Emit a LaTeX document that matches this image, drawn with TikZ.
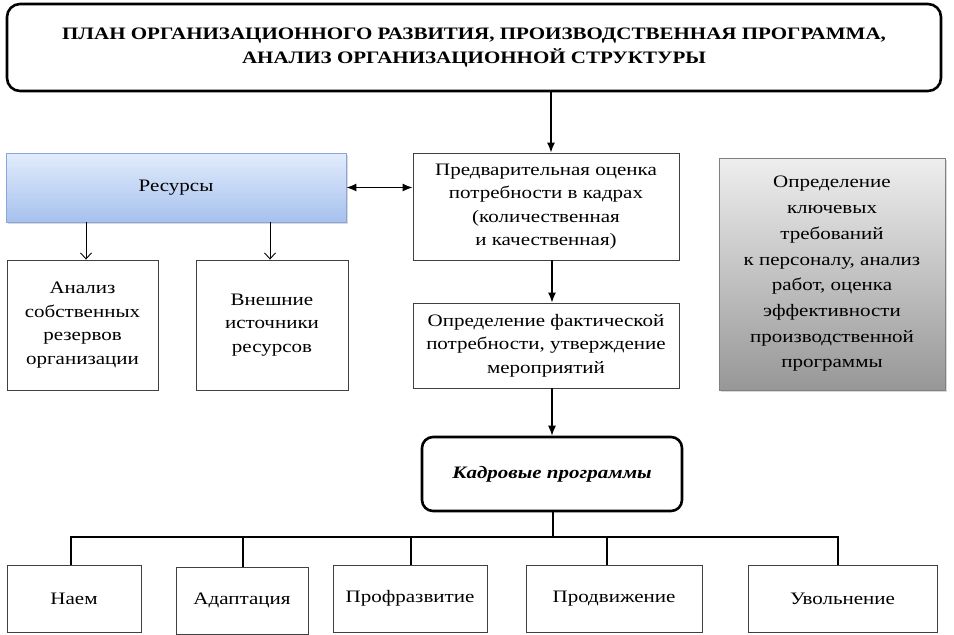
\documentclass[tikz,border=0pt]{standalone}
\usepackage{fontspec}
\setmainfont{Liberation Serif}[FakeStretch=1.2]
\usetikzlibrary{arrows.meta,shadows}
\definecolor{restop}{HTML}{E2ECFC}
\definecolor{resbot}{HTML}{A6C1EE}
\definecolor{resdraw}{HTML}{8AA6D8}
\definecolor{graytop}{HTML}{EEEEEE}
\definecolor{graybot}{HTML}{979797}
\tikzset{
  box/.style={draw=black!75, line width=0.9pt, align=center, inner sep=2pt,
    font=\fontsize{17.5}{23.5}\selectfont},
  thickbox/.style={draw=black, line width=2.6pt, rounded corners=13pt, align=center,
    inner sep=2pt},
  mainarrow/.style={line width=1.3pt, -{Latex[length=10pt,width=8pt]}},
  openarrow/.style={line width=0.9pt, -{Straight Barb[length=6pt,width=11pt]}},
  link/.style={line width=2pt},
}
\begin{document}
\begin{tikzpicture}[x=1pt,y=-1pt]
\useasboundingbox (0,0) rectangle (954,635);
\node[thickbox, minimum width=934pt, minimum height=87pt,
  font=\bfseries\fontsize{17.5}{23.5}\selectfont] (top) at (474,47.5)
  {ПЛАН ОРГАНИЗАЦИОННОГО РАЗВИТИЯ, ПРОИЗВОДСТВЕННАЯ ПРОГРАММА,\\АНАЛИЗ ОРГАНИЗАЦИОННОЙ СТРУКТУРЫ};
\node[box, draw=resdraw, top color=restop, bottom color=resbot,
  drop shadow={shadow xshift=2pt, shadow yshift=-2pt, opacity=0.3},
  minimum width=340pt, minimum height=69pt] (res) at (176,187.5) {\raisebox{-3pt}{Ресурсы}};
\node[box, minimum width=151pt, minimum height=130pt] (anal) at (82.5,325)
  {Анализ\\собственных\\резервов\\организации};
\node[box, minimum width=152pt, minimum height=130pt] (vnesh) at (272,325)
  {Внешние\\источники\\ресурсов};
\node[box, minimum width=266pt, minimum height=107pt] (prelim) at (546,206.5)
  {Предварительная оценка\\потребности в кадрах\\(количественная\\и качественная)};
\node[box, minimum width=266pt, minimum height=85pt] (opred) at (546,345.5)
  {Определение фактической\\потребности, утверждение\\мероприятий};
\node[box, draw=black!50, top color=graytop, bottom color=graybot,
  drop shadow={shadow xshift=2pt, shadow yshift=-2pt, opacity=0.3},
  font=\fontsize{17.5}{25.7}\selectfont,
  minimum width=226pt, minimum height=232pt] (gray) at (832,274)
  {Определение\\ключевых\\требований\\к персоналу, анализ\\работ, оценка\\эффективности\\производственной\\программы};
\node[thickbox, rounded corners=11pt, minimum width=260pt, minimum height=74pt,
  font=\bfseries\itshape\fontsize{17.5}{23.5}\selectfont] (kadr) at (552,474) {Кадровые программы};
\node[box, minimum width=134pt, minimum height=67pt] (naem) at (74,598.5) {Наем};
\node[box, minimum width=132pt, minimum height=67pt] (adapt) at (242,600.5) {Адаптация};
\node[box, minimum width=154pt, minimum height=67pt] (prof) at (410,598.5) {Профразвитие};
\node[box, minimum width=176pt, minimum height=67pt] (prod) at (614,598.5) {Продвижение};
\node[box, minimum width=189pt, minimum height=67pt] (uvol) at (842.5,598.5) {Увольнение};
\coordinate (bar) at (553,537);
% connectors
\draw[mainarrow] ([xshift=5pt]top.south -| prelim.north) -- ([xshift=5pt]prelim.north);
\draw[line width=1.3pt, {Latex[length=10pt,width=8pt]}-{Latex[length=10pt,width=8pt]}]
  (res.east) -- (res.east -| prelim.west);
\draw[openarrow] ([xshift=-90pt]res.south) -- ([xshift=3.5pt]anal.north);
\draw[openarrow] ([xshift=94pt]res.south) -- ([xshift=-2pt]vnesh.north);
\draw[mainarrow] ([xshift=6pt]prelim.south) -- ([xshift=6pt]opred.north);
\draw[mainarrow] (opred.south -| kadr.north) -- (kadr.north);
\draw[link] (kadr.south -| bar) -- (bar);
\draw[link] ([xshift=-3pt]naem.north) |- (bar);
\draw[link] ([xshift=1pt]adapt.north) |- (bar);
\draw[link] ([xshift=1pt]prof.north) |- (bar);
\draw[link] ([xshift=-7pt]prod.north) |- (bar);
\draw[link] ([xshift=-4.5pt]uvol.north) |- (bar);
\end{tikzpicture}
\end{document}
